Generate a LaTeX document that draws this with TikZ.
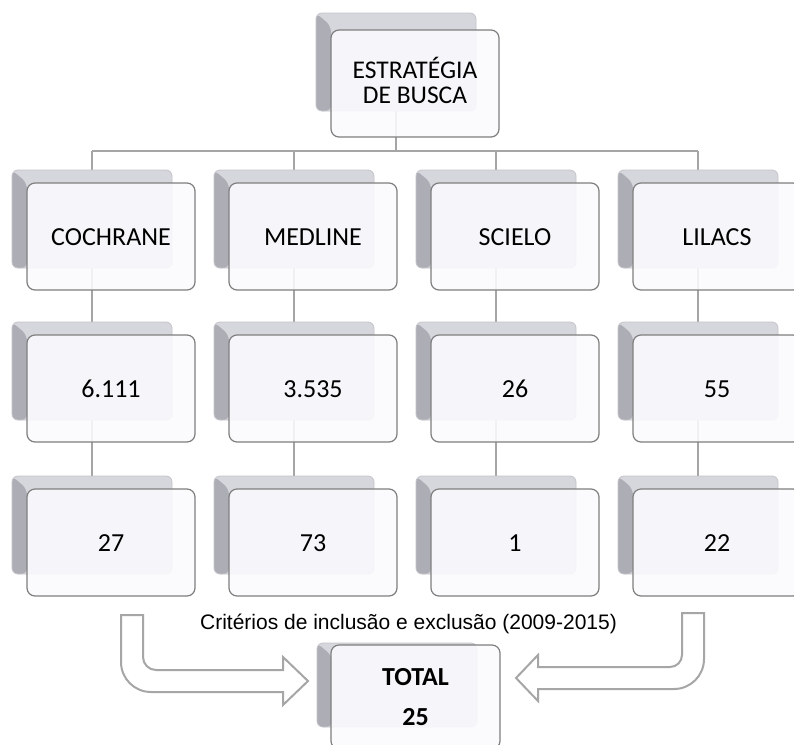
\documentclass[tikz,border=0pt]{standalone}
\usepackage{fontspec}
\setmainfont{Carlito}[Numbers=Lining]
\newfontfamily\arialf{Liberation Sans}
\usetikzlibrary{backgrounds,calc}
\definecolor{boxfill}{HTML}{FBFAFD}
\definecolor{frontline}{HTML}{7F7F7F}
\definecolor{shadtop}{HTML}{D6D6DD}
\definecolor{shadleft}{HTML}{ADADB5}
\definecolor{shadline}{HTML}{C4C4CA}
\definecolor{connc}{HTML}{A5A5A5}
\definecolor{arrowc}{HTML}{A6A6A6}
\tikzset{
  front/.style={draw=frontline, line width=1.2pt, fill=boxfill, fill opacity=0.88,
    text opacity=1, rounded corners=8pt, minimum width=168pt, minimum height=107pt,
    inner sep=0pt, outer sep=0pt, anchor=north west, align=center,
    font=\fontsize{26}{30}\selectfont},
  single/.style={text height=17pt, text depth=0pt},
  back/.style={draw=shadline, line width=0.8pt, fill=shadtop, rounded corners=6pt,
    minimum width=160pt, minimum height=98pt, inner sep=0pt, outer sep=0pt,
    anchor=north west,
    path picture={\fill[shadleft] (path picture bounding box.north west) -- ++(15,13)
      |- (path picture bounding box.south west) -- cycle;}},
  conn/.style={draw=connc, line width=2pt},
  hollow/.style={draw=arrowc, line width=2pt, fill=white, line join=miter},
  crit/.style={font=\arialf\fontsize{21}{25}\selectfont, inner sep=0pt, anchor=base}
}
\newcommand{\dbx}[4]{%
  \node[back] (s#1) at (#2-15,#3-13) {};
  \node[front, single] (#1) at (#2,#3) {#4};
}
\begin{document}
\begin{tikzpicture}[x=1pt,y=-1pt]
\clip (0,0) rectangle (794,744);

% top box
\node[back] (stop) at (316,13) {};
\node[front] (top) at (331,30) {};
\node[font=\fontsize{25.5}{25}\selectfont, align=center, inner sep=0pt] (toptxt) at (415,80) {ESTRATÉGIA\\DE BUSCA};

% row 1
\dbx{ra}{27}{183}{COCHRANE}
\dbx{rb}{229}{183}{MEDLINE}
\dbx{rc}{431}{183}{SCIELO}
\dbx{rd}{633}{183}{LILACS}
% row 2
\dbx{ma}{27}{335}{6.111}
\dbx{mb}{229}{335}{3.535}
\dbx{mc}{431}{335}{26}
\dbx{md}{633}{335}{55}
% row 3
\dbx{la}{27}{489}{27}
\dbx{lb}{229}{489}{73}
\dbx{lc}{431}{489}{1}
\dbx{ld}{633}{489}{22}

% total
\node[back, minimum height=84pt] (stotal) at (317,643) {};
\node[front, minimum width=169pt, minimum height=104pt, anchor=center,
  font=\fontsize{26}{40}\selectfont\bfseries] (total) at (415.5,697) {TOTAL\\25};

% connectors
\begin{pgfonlayer}{background}
\fill[white] (0,0) rectangle (794,744);
\coordinate (bus) at (396,151);
\draw[conn] (stop.center) -- (bus);
\draw[conn] (sra.center |- bus) -- (srd.center |- bus);
\foreach \c in {a,b,c,d}{
  \draw[conn] (sr\c.center |- bus) -- (sr\c.center) -- (sm\c.center) -- (sl\c.center);
}
\end{pgfonlayer}

% criteria text
\node[crit] (crit) at (408.5,629) {Critérios de inclusão e exclusão (2009-2015)};

% hollow arrows
\draw[hollow] (121,615) -- (121,662) .. controls (121,678.6) and (134.4,692) .. (151,692)
  -- (283,692) -- (283,705) -- (308,681) -- (283,657) -- (283,670) -- (156,670)
  .. controls (148.8,670) and (143,664.2) .. (143,657) -- (143,615) -- cycle;
\draw[hollow] (704,613) -- (704,659) .. controls (704,675.6) and (690.6,689) .. (674,689)
  -- (538,689) -- (538,701) -- (516,678) -- (538,655) -- (538,667) -- (670,667)
  .. controls (676.6,667) and (682,661.6) .. (682,655) -- (682,613) -- cycle;
\end{tikzpicture}
\end{document}
